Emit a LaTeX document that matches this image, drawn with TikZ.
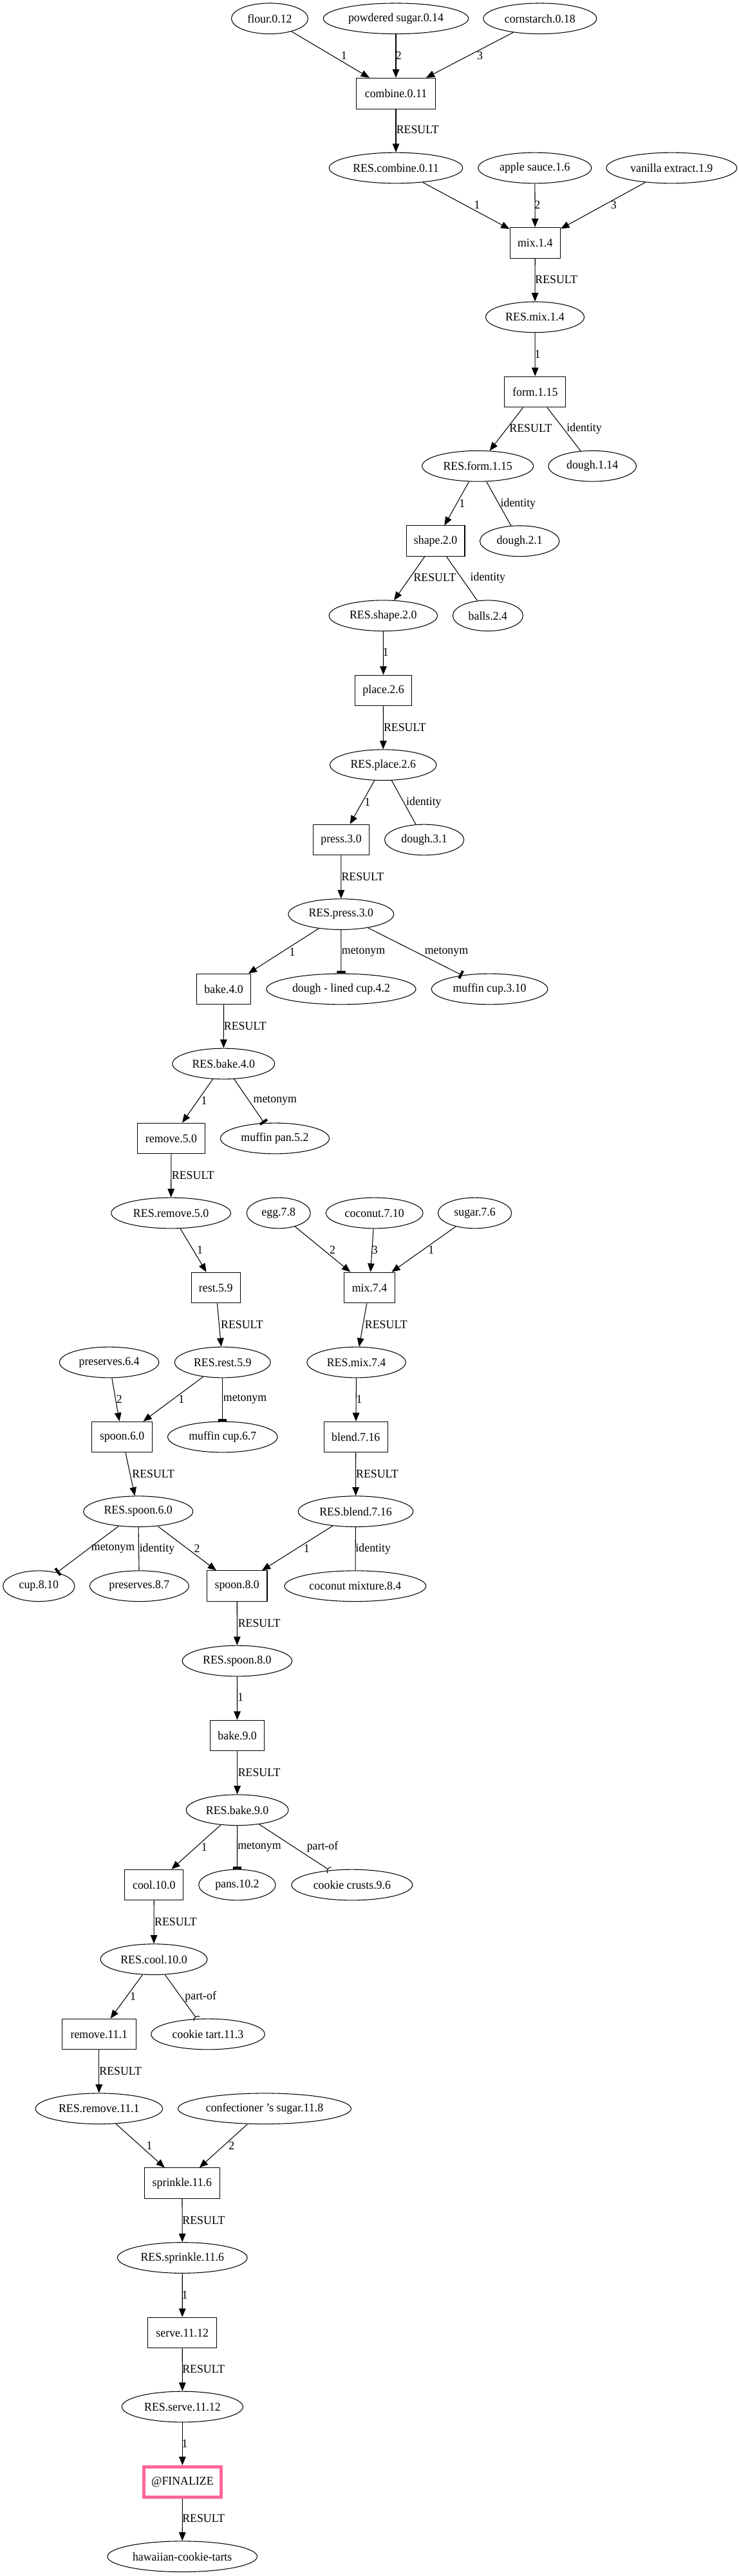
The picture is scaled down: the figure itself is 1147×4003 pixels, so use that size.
\documentclass[tikz,border=0pt]{standalone}
\usepackage{fontspec}
\setmainfont{Liberation Serif}[FakeStretch=0.96]
\usetikzlibrary{shapes.geometric,arrows.meta}
\definecolor{finpink}{RGB}{255,102,153}
\newcommand{\mytxt}[1]{\makebox[0pt]{#1}}
\tikzset{
  ell/.style={ellipse, draw, line width=0.8pt, minimum width=#1*0.7547pt, minimum height=36pt, inner sep=0pt},
  box/.style={rectangle, draw, line width=0.8pt, minimum width=#1*0.7547pt, minimum height=36pt, inner sep=0pt},
  finbox/.style={rectangle, draw=finpink, line width=3.8pt, minimum width=#1*0.7547pt, minimum height=35.7pt, inner sep=0pt},
  lbl/.style={inner sep=0pt},
  arr/.style={draw, line width=0.8pt, -{Triangle[length=10pt,width=8pt]}},
  teearr/.style={draw, line width=0.8pt, -{Rectangle[length=3pt,width=10pt]}},
  idn/.style={draw, line width=0.8pt},
  partof/.style={draw, line width=0.8pt, -{Arc Barb[reversed,length=3pt,width=9pt]}},
}
\begin{document}
\begin{tikzpicture}[x=0.7547pt, y=-0.7547pt, font=\fontsize{14}{16}\selectfont]
\useasboundingbox (0,0) rectangle (1147,4003);
% nodes
\node[ell=119]   (flour)   at (419,28.8)   {\mytxt{flour.0.12}};
\node[ell=225.5] (psugar)  at (615,28.8)   {\mytxt{powdered sugar.0.14}};
\node[ell=176]   (corn)    at (838.8,28.8) {\mytxt{cornstarch.0.18}};
\node[box=122.7] (combine) at (615,145.2)  {\mytxt{combine.0.11}};
\node[ell=207.5] (rescombine) at (615,261) {\mytxt{RES.combine.0.11}};
\node[ell=176]   (apple)   at (830.8,261)  {\mytxt{apple sauce.1.6}};
\node[ell=203]   (vanilla) at (1043.3,261) {\mytxt{vanilla extract.1.9}};
\node[box=78.5]  (mixa)    at (831.3,377.2) {\mytxt{mix.1.4}};
\node[ell=153]   (resmixa) at (831,492.8)  {\mytxt{RES.mix.1.4}};
\node[box=95]    (form)    at (831.3,609)  {\mytxt{form.1.15}};
\node[ell=173]   (resform) at (742.2,724.3) {\mytxt{RES.form.1.15}};
\node[ell=136.5] (doughA)  at (920.2,724.3) {\mytxt{dough.1.14}};
\node[box=90.8]  (shape)   at (676.6,840.8) {\mytxt{shape.2.0}};
\node[ell=123.4] (doughB)  at (807.2,840.8) {\mytxt{dough.2.1}};
\node[ell=168.4] (resshape) at (595.3,956.7) {\mytxt{RES.shape.2.0}};
\node[ell=109]   (balls)   at (757.9,956.7) {\mytxt{balls.2.4}};
\node[box=88]    (place)   at (595.6,1073) {\mytxt{place.2.6}};
\node[ell=165.3] (resplace) at (595.2,1188.7) {\mytxt{RES.place.2.6}};
\node[box=86.9]  (press)   at (530,1305)   {\mytxt{press.3.0}};
\node[ell=123.2] (doughC)  at (659.1,1305) {\mytxt{dough.3.1}};
\node[ell=163.8] (respress) at (529.8,1420.7) {\mytxt{RES.press.3.0}};
\node[box=84.2]  (bakea)   at (347.6,1537) {\mytxt{bake.4.0}};
\node[ell=232]   (dlcup)   at (530,1537)   {\mytxt{dough - lined cup.4.2}};
\node[ell=180.5] (mcupa)   at (760.6,1537) {\mytxt{muffin cup.3.10}};
\node[ell=158.8] (resbakea) at (347.3,1653) {\mytxt{RES.bake.4.0}};
\node[box=105.9] (removea) at (266,1769)   {\mytxt{remove.5.0}};
\node[ell=169]   (mpan)    at (427,1769)   {\mytxt{muffin pan.5.2}};
\node[ell=185.6] (resremovea) at (265.6,1885) {\mytxt{RES.remove.5.0}};
\node[ell=98.9]  (egg)     at (432.7,1885) {\mytxt{egg.7.8}};
\node[ell=150.5] (coconut) at (581.7,1885) {\mytxt{coconut.7.10}};
\node[ell=114.2] (sugar)   at (737.6,1885) {\mytxt{sugar.7.6}};
\node[box=75.9]  (rest)    at (335.2,2001) {\mytxt{rest.5.9}};
\node[box=79.1]  (mixb)    at (574,2001)   {\mytxt{mix.7.4}};
\node[ell=154.4] (presa)   at (169.6,2117) {\mytxt{preserves.6.4}};
\node[ell=148.7] (resrest) at (345.8,2117) {\mytxt{RES.rest.5.9}};
\node[ell=153.3] (resmixb) at (553.6,2117) {\mytxt{RES.mix.7.4}};
\node[box=93.6]  (spoona)  at (189.7,2233) {\mytxt{spoon.6.0}};
\node[ell=170.5] (mcupb)   at (345.8,2233) {\mytxt{muffin cup.6.7}};
\node[box=98.7]  (blend)   at (552.8,2233) {\mytxt{blend.7.16}};
\node[ell=169.9] (resspoona) at (214.7,2348.7) {\mytxt{RES.spoon.6.0}};
\node[ell=178.5] (resblend) at (552.5,2348.7) {\mytxt{RES.blend.7.16}};
\node[ell=111.4] (cup)     at (60.3,2464.7) {\mytxt{cup.8.10}};
\node[ell=153.8] (presb)   at (216.4,2464.7) {\mytxt{preserves.8.7}};
\node[box=93.6]  (spoonb)  at (368.2,2464.7) {\mytxt{spoon.8.0}};
\node[ell=219.8] (cocomix) at (551.9,2464.7) {\mytxt{coconut mixture.8.4}};
\node[ell=170.4] (resspoonb) at (368.4,2581) {\mytxt{RES.spoon.8.0}};
\node[box=84.2]  (bakeb)   at (368.6,2697) {\mytxt{bake.9.0}};
\node[ell=158.7] (resbakeb) at (368.6,2812.7) {\mytxt{RES.bake.9.0}};
\node[box=90.8]  (cool)    at (239.3,2929) {\mytxt{cool.10.0}};
\node[ell=119.4] (pans)    at (368.4,2929) {\mytxt{pans.10.2}};
\node[ell=187.8] (crusts)  at (546.9,2929) {\mytxt{cookie crusts.9.6}};
\node[ell=165.8] (rescool) at (239,3044.7) {\mytxt{RES.cool.10.0}};
\node[box=114.8] (removeb) at (153.8,3161) {\mytxt{remove.11.1}};
\node[ell=176.5] (tart)    at (323,3161)   {\mytxt{cookie tart.11.3}};
\node[ell=197.5] (resremoveb) at (153.8,3276.7) {\mytxt{RES.remove.11.1}};
\node[ell=269]   (confsugar) at (411,3276.7) {\mytxt{confectioner 's sugar.11.8}};
\node[box=116.8] (sprinkle) at (282.9,3392.7) {\mytxt{sprinkle.11.6}};
\node[ell=201.5] (ressprinkle) at (283.3,3508.5) {\mytxt{RES.sprinkle.11.6}};
\node[box=107.2] (serve)   at (283.2,3625) {\mytxt{serve.11.12}};
\node[ell=188]   (resserve) at (283.4,3740) {\mytxt{RES.serve.11.12}};
\node[finbox=119.4] (final) at (283.4,3857) {\mytxt{@FINALIZE}};
\node[ell=232.6] (hawaii)  at (283.2,3972.7) {\mytxt{hawaiian-cookie-tarts}};
% edges
\draw[arr] (flour) -- (combine);
\draw[arr] (psugar) -- (combine);
\draw[arr] (corn) -- (combine);
\draw[arr] (combine) -- (rescombine);
\draw[arr] (rescombine) -- (mixa);
\draw[arr] (apple) -- (mixa);
\draw[arr] (vanilla) -- (mixa);
\draw[arr] (mixa) -- (resmixa);
\draw[arr] (resmixa) -- (form);
\draw[arr] (form) -- (resform);
\draw[idn] (form) -- (doughA);
\draw[arr] (resform) -- (shape);
\draw[idn] (resform) -- (doughB);
\draw[arr] (shape) -- (resshape);
\draw[idn] (shape) -- (balls);
\draw[arr] (resshape) -- (place);
\draw[arr] (place) -- (resplace);
\draw[arr] (resplace) -- (press);
\draw[idn] (resplace) -- (doughC);
\draw[arr] (press) -- (respress);
\draw[arr] (respress) -- (bakea);
\draw[teearr] (respress) -- (dlcup);
\draw[teearr] (respress) -- (mcupa);
\draw[arr] (bakea) -- (resbakea);
\draw[arr] (resbakea) -- (removea);
\draw[teearr] (resbakea) -- (mpan);
\draw[arr] (removea) -- (resremovea);
\draw[arr] (resremovea) -- (rest);
\draw[arr] (egg) -- (mixb);
\draw[arr] (coconut) -- (mixb);
\draw[arr] (sugar) -- (mixb);
\draw[arr] (rest) -- (resrest);
\draw[arr] (mixb) -- (resmixb);
\draw[arr] (presa) -- (spoona);
\draw[arr] (resrest) -- (spoona);
\draw[teearr] (resrest) -- (mcupb);
\draw[arr] (resmixb) -- (blend);
\draw[arr] (spoona) -- (resspoona);
\draw[arr] (blend) -- (resblend);
\draw[teearr] (resspoona) -- (cup);
\draw[idn] (resspoona) -- (presb);
\draw[arr] (resspoona) -- (spoonb);
\draw[arr] (resblend) -- (spoonb);
\draw[idn] (resblend) -- (cocomix);
\draw[arr] (spoonb) -- (resspoonb);
\draw[arr] (resspoonb) -- (bakeb);
\draw[arr] (bakeb) -- (resbakeb);
\draw[arr] (resbakeb) -- (cool);
\draw[teearr] (resbakeb) -- (pans);
\draw[partof] (resbakeb) -- (crusts);
\draw[arr] (cool) -- (rescool);
\draw[arr] (rescool) -- (removeb);
\draw[partof] (rescool) -- (tart);
\draw[arr] (removeb) -- (resremoveb);
\draw[arr] (resremoveb) -- (sprinkle);
\draw[arr] (confsugar) -- (sprinkle);
\draw[arr] (sprinkle) -- (ressprinkle);
\draw[arr] (ressprinkle) -- (serve);
\draw[arr] (serve) -- (resserve);
\draw[arr] (resserve) -- (final);
\draw[arr] (final) -- (hawaii);
% edge labels
\node[lbl] (l01) at (534.4,86.7) {1};
\node[lbl] (l02) at (619.2,86.7) {2};
\node[lbl] (l03) at (745.5,86.7) {3};
\node[lbl] (l04) at (648.6,201.7) {RESULT};
\node[lbl] (l05) at (741,318.3) {1};
\node[lbl] (l06) at (834.8,318.3) {2};
\node[lbl] (l07) at (953.3,318.3) {3};
\node[lbl] (l08) at (864.2,434) {RESULT};
\node[lbl] (l09) at (835,550) {1};
\node[lbl] (l10) at (824.3,665.7) {RESULT};
\node[lbl] (l11) at (907.6,665.7) {identity};
\node[lbl] (l12) at (717.9,782.7) {1};
\node[lbl] (l13) at (804.9,782.7) {identity};
\node[lbl] (l14) at (675.4,897.7) {RESULT};
\node[lbl] (l15) at (757.9,897.7) {identity};
\node[lbl] (l16) at (599,1013.5) {1};
\node[lbl] (l17) at (628.9,1130) {RESULT};
\node[lbl] (l18) at (570.7,1246.7) {1};
\node[lbl] (l19) at (658.4,1246.7) {identity};
\node[lbl] (l20) at (563.4,1362.3) {RESULT};
\node[lbl] (l21) at (454,1479) {1};
\node[lbl] (l22) at (564.6,1479) {metonym};
\node[lbl] (l23) at (693.5,1479) {metonym};
\node[lbl] (l24) at (380.8,1594.3) {RESULT};
\node[lbl] (l25) at (317,1710) {1};
\node[lbl] (l26) at (427.3,1710) {metonym};
\node[lbl] (l27) at (299.8,1826) {RESULT};
\node[lbl] (l28) at (310.6,1942.7) {1};
\node[lbl] (l29) at (516.6,1942.7) {2};
\node[lbl] (l30) at (582.3,1942.7) {3};
\node[lbl] (l31) at (669.7,1942.7) {1};
\node[lbl] (l32) at (376,2058.3) {RESULT};
\node[lbl] (l33) at (599.8,2058.3) {RESULT};
\node[lbl] (l34) at (185.4,2174.3) {2};
\node[lbl] (l35) at (281.8,2174.3) {1};
\node[lbl] (l36) at (380.6,2174.3) {metonym};
\node[lbl] (l37) at (558,2174.3) {1};
\node[lbl] (l38) at (238.2,2290) {RESULT};
\node[lbl] (l39) at (586,2290) {RESULT};
\node[lbl] (l40) at (175.6,2406.7) {metonym};
\node[lbl] (l41) at (244,2406.7) {identity};
\node[lbl] (l42) at (306,2406.7) {2};
\node[lbl] (l43) at (476.4,2406.7) {1};
\node[lbl] (l44) at (579.7,2406.7) {identity};
\node[lbl] (l45) at (402.6,2522.3) {RESULT};
\node[lbl] (l46) at (373.5,2637.7) {1};
\node[lbl] (l47) at (402.6,2754.3) {RESULT};
\node[lbl] (l48) at (317.3,2870) {1};
\node[lbl] (l49) at (403,2870) {metonym};
\node[lbl] (l50) at (501,2870) {part-of};
\node[lbl] (l51) at (273,2986) {RESULT};
\node[lbl] (l52) at (206.6,3102.7) {1};
\node[lbl] (l53) at (311.7,3102.7) {part-of};
\node[lbl] (l54) at (187.2,3218.3) {RESULT};
\node[lbl] (l55) at (232.1,3334.3) {1};
\node[lbl] (l56) at (359.7,3334.3) {2};
\node[lbl] (l57) at (316.3,3450) {RESULT};
\node[lbl] (l58) at (287,3566.7) {1};
\node[lbl] (l59) at (316.1,3681.7) {RESULT};
\node[lbl] (l60) at (287,3797.7) {1};
\node[lbl] (l61) at (316.1,3913.3) {RESULT};
\end{tikzpicture}
\end{document}
